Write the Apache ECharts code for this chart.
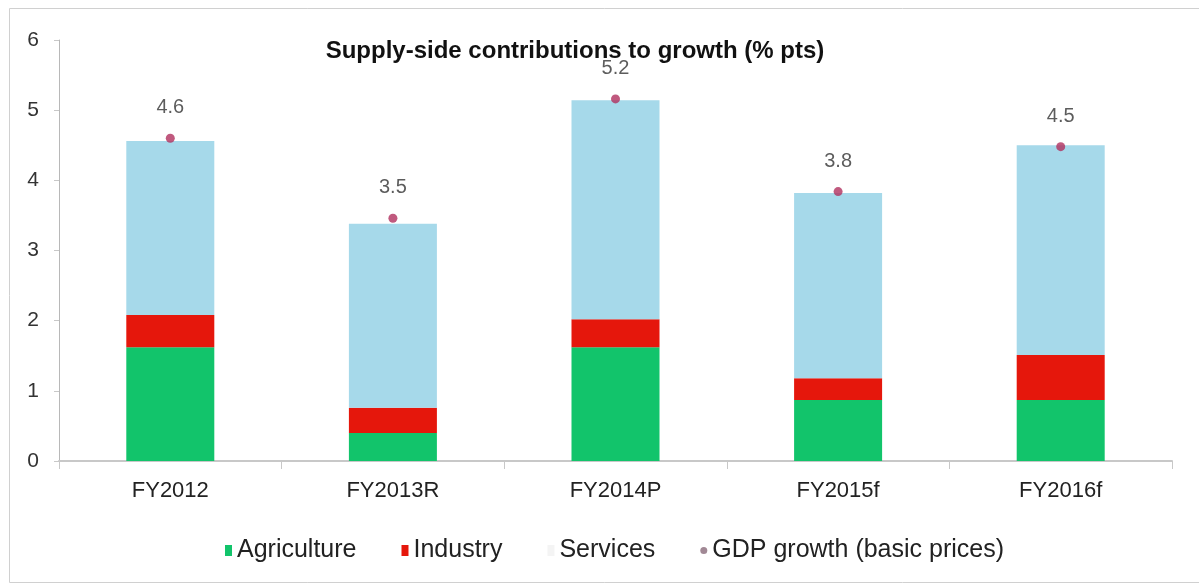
<!DOCTYPE html>
<html>
<head>
<meta charset="utf-8">
<script src="https://cdn.jsdelivr.net/npm/echarts@6/dist/echarts.min.js"></script>
<style>
html,body{margin:0;padding:0;background:#fff;}
#c{width:1199px;height:585px;}
</style>
</head>
<body>
<div id="c"></div>
<script>
var categories = ['FY2012', 'FY2013R', 'FY2014P', 'FY2015f', 'FY2016f'];
var agriculture = [1.62, 0.40, 1.62, 0.87, 0.87];
var industry = [0.46, 0.36, 0.40, 0.31, 0.64];
var services = [2.48, 2.62, 3.12, 2.64, 2.99];
var gdpGrowth = [4.60, 3.46, 5.16, 3.84, 4.48];
var yTicks = [0, 1, 2, 3, 4, 5, 6];

var chart = echarts.init(document.getElementById('c'), null, {renderer: 'canvas'});
var font = 'Liberation Sans, Arial, sans-serif';
chart.setOption({
  animation: false,
  backgroundColor: '#fff',
  title: {
    text: 'Supply-side contributions to growth (% pts)',
    left: 570, top: 34, textAlign: 'center',
    textStyle: {fontFamily: font, fontSize: 24, fontWeight: 'bold', color: '#111'}
  },
  graphic: [{
    type: 'rect', shape: {x: 9.5, y: 8.5, width: 1200, height: 574},
    style: {fill: 'none', stroke: '#d0d0d0', lineWidth: 1}, silent: true
  }],
  legend: {
    top: 533, left: 220, itemGap: 45, itemWidth: 7, itemHeight: 11,
    textStyle: {fontFamily: font, fontSize: 25, color: '#222'},
    data: [
      {name: 'Agriculture', icon: 'rect'},
      {name: 'Industry', icon: 'rect'},
      {name: 'Services', icon: 'rect', itemStyle: {color: '#f4f4f4'}},
      {name: 'GDP growth (basic prices)', icon: 'circle', itemStyle: {color: '#8a6a7a'}}
    ]
  },
  grid: {left: 59, right: 27, top: 40, bottom: 124},
  xAxis: {
    type: 'category', data: categories,
    axisLine: {lineStyle: {color: '#c8c8c8', width: 2}},
    axisTick: {show: true, length: 8, lineStyle: {color: '#c8c8c8'}},
    axisLabel: {fontFamily: font, fontSize: 22, color: '#222', margin: 19}
  },
  yAxis: {
    type: 'value', min: yTicks[0], max: yTicks[yTicks.length - 1], interval: 1,
    splitLine: {show: false},
    axisLine: {show: true, lineStyle: {color: '#b8b8b8'}},
    axisTick: {show: true, length: 5, lineStyle: {color: '#c8c8c8'}},
    axisLabel: {fontFamily: font, fontSize: 21, color: '#333', margin: 20}
  },
  series: [
    {name: 'Agriculture', type: 'bar', stack: 'a', data: agriculture, barWidth: 88,
      itemStyle: {color: '#12c46b'}},
    {name: 'Industry', type: 'bar', stack: 'a', data: industry, barWidth: 88,
      itemStyle: {color: '#e5170c'}},
    {name: 'Services', type: 'bar', stack: 'a', data: services, barWidth: 88,
      itemStyle: {color: '#a6d9ea'}},
    {name: 'GDP growth (basic prices)', type: 'scatter', data: gdpGrowth,
      symbol: 'circle', symbolSize: 9, itemStyle: {color: '#b0305e'},
      label: {show: true, position: 'top', distance: 16, fontFamily: font, fontSize: 20, color: '#333',
        formatter: function (p) { return p.value.toFixed(1); }}}
  ]
});
</script>
</body>
</html>
